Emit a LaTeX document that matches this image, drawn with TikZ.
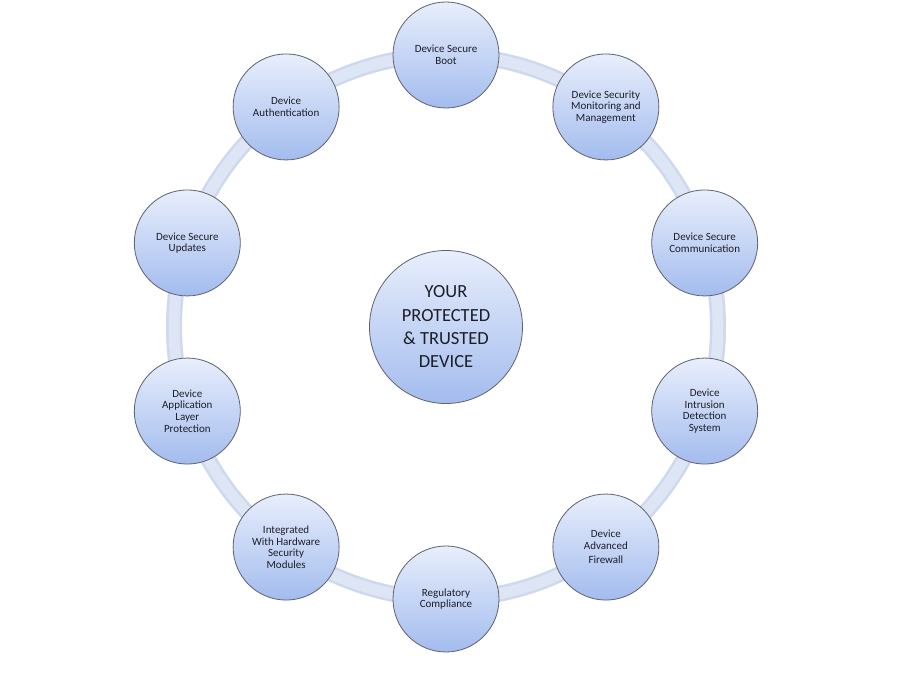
\documentclass[tikz,border=0pt]{standalone}
\usepackage{fontspec}
\setmainfont{Carlito}
\usetikzlibrary{calc}
\definecolor{ringedge}{RGB}{206,216,238}
\definecolor{ringfill}{RGB}{222,230,246}
\definecolor{bubtop}{RGB}{232,238,252}
\definecolor{bubbot}{RGB}{163,188,238}
\definecolor{bubline}{RGB}{95,98,110}
\definecolor{txt}{RGB}{28,30,40}
\tikzset{
  bub/.style={circle, draw=bubline, line width=0.8pt, top color=bubtop, bottom color=bubbot,
    minimum size=106pt, inner sep=0pt, align=center, text=txt,
    font=\fontsize{11}{11.6}\selectfont},
  hub/.style={circle, draw=bubline, line width=0.8pt, top color=bubtop, bottom color=bubbot,
    minimum size=153pt, inner sep=0pt, align=center, text=txt,
    font=\fontsize{18.5}{23.3}\selectfont},
  ringouter/.style={draw=ringedge, line width=16pt},
  ringinner/.style={draw=ringfill, line width=11pt}
}
\begin{document}
\begin{tikzpicture}[x=1pt,y=1pt]
\useasboundingbox (0,0) rectangle (900,675);
\fill[white] (0,0) rectangle (900,675);
\coordinate (C) at (446,348);
\draw[ringouter] (C) circle (272);
\draw[ringinner] (C) circle (272);
\node[hub] (hub) at (C) {YOUR\\PROTECTED\\\& TRUSTED\\DEVICE};
\node[bub] (n0) at ($(C)+(90:272)$) {Device Secure\\Boot};
\node[bub] (n1) at ($(C)+(54:272)$) {Device Security\\Monitoring and\\Management};
\node[bub] (n2) at ($(C)+(18:272)$) {Device Secure\\Communication};
\node[bub] (n3) at ($(C)+(-18:272)$) {Device\\Intrusion\\Detection\\System};
\node[bub] (n4) at ($(C)+(-54:272)$) {Device\\Advanced\\[3pt]Firewall};
\node[bub] (n5) at ($(C)+(-90:272)$) {Regulatory\\Compliance};
\node[bub] (n6) at ($(C)+(-126:272)$) {Integrated\\With Hardware\\Security\\Modules};
\node[bub] (n7) at ($(C)+(-162:272)$) {Device\\Application\\Layer\\Protection};
\node[bub] (n8) at ($(C)+(162:272)$) {Device Secure\\Updates};
\node[bub] (n9) at ($(C)+(126:272)$) {Device\\Authentication};
\end{tikzpicture}
\end{document}
